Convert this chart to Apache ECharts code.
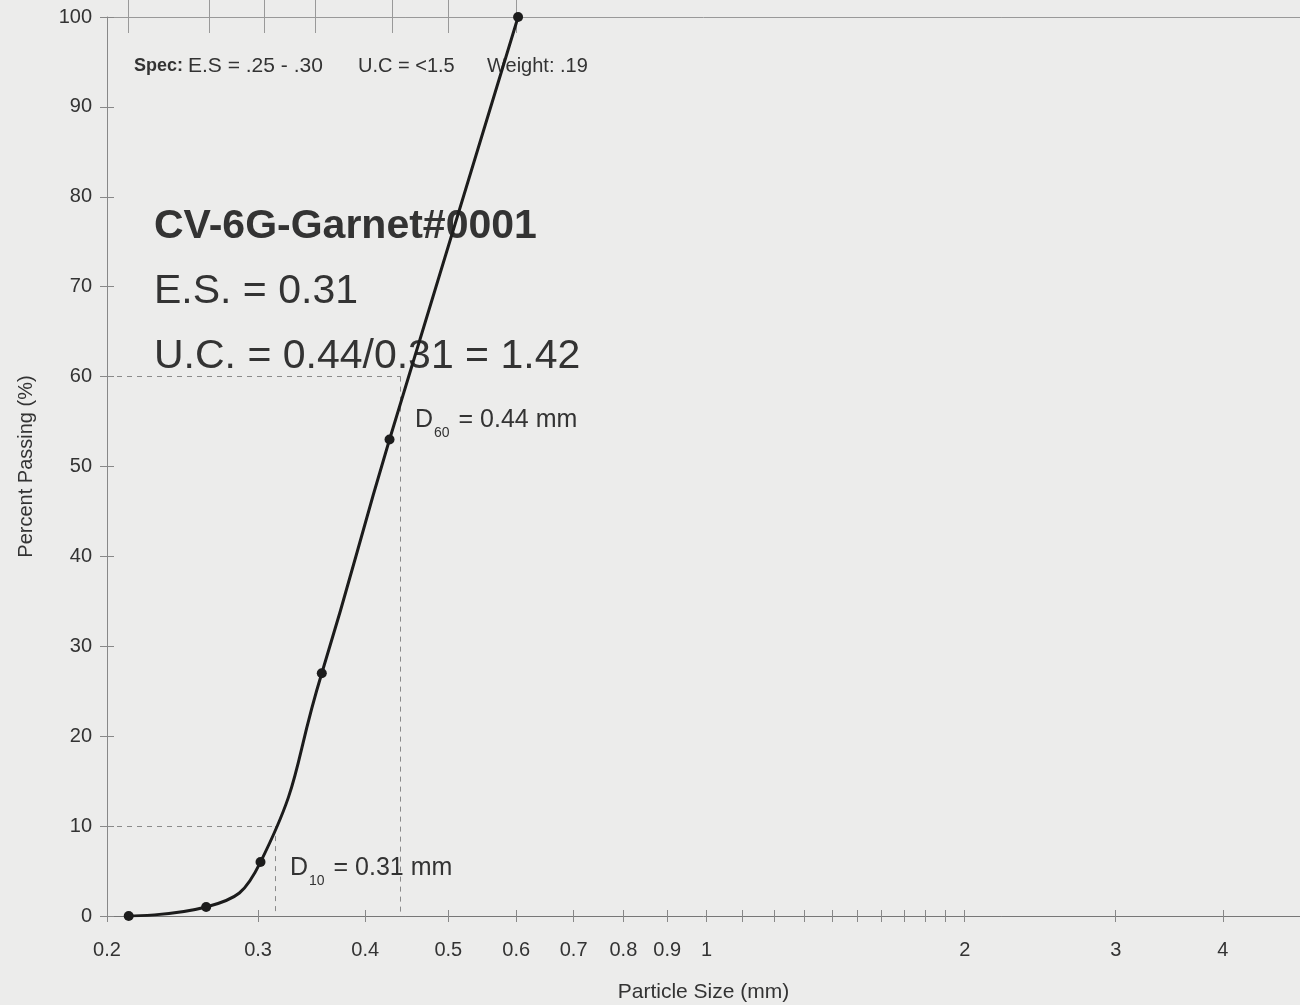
<!DOCTYPE html>
<html lang="en">
<head>
<meta charset="utf-8">
<title>Particle Size Distribution</title>
<script src="https://cdn.jsdelivr.net/npm/echarts@6/dist/echarts.min.js"></script>
<style>
  html, body { margin: 0; padding: 0; background: #ececeb; }
  #main { width: 1300px; height: 1005px; }
</style>
</head>
<body>
<div id="main"></div>
<script type="text/javascript">
// sieve data
var sieveSize = [0.212, 0.261, 0.302, 0.356, 0.427, 0.603];
var percentPassing = [0, 1, 6, 27, 53, 100];
// sieve marks along the top edge
var topTicks = [0.212, 0.263, 0.305, 0.35, 0.43, 0.5, 0.6];
// axis labels
var xLabels = [0.2, 0.3, 0.4, 0.5, 0.6, 0.7, 0.8, 0.9, 1, 2, 3, 4];
var xMinor = [1.1, 1.2, 1.3, 1.4, 1.5, 1.6, 1.7, 1.8, 1.9];
// D10 / D60 reference values
var d10 = [0.314, 10];
var d60 = [0.44, 60];

var font = '"Liberation Sans", Arial, sans-serif';
var textColor = '#333';
var axisColor = '#888';

var chart = echarts.init(document.getElementById('main'));

var points = [];
for (var i = 0; i < sieveSize.length; i++) {
    points.push([sieveSize[i], percentPassing[i]]);
}

var dashStyle = { color: '#8a8a8a', width: 1, type: [5, 5] };

// extra axis copies only carry the inward half of the crossing ticks
function logAxis(extra) {
    var a = {
        type: 'log', logBase: 10, min: 0.2, max: 4.92,
        axisLabel: { show: false },
        splitLine: { show: false },
        minorTick: { show: false }
    };
    for (var k in extra) a[k] = extra[k];
    return a;
}

function dLabel(sub, val) {
    return {
        text: '{d|D}{s|' + sub + '}{d| = ' + val + ' mm}', fill: textColor,
        rich: { d: { fontSize: 25, fontFamily: font, lineHeight: 40, fill: textColor },
                s: { fontSize: 14, fontFamily: font, lineHeight: 14, verticalAlign: 'bottom', padding: [0, 2, 0, 1], fill: textColor } }
    };
}

option = {
    backgroundColor: '#ececeb',
    animation: false,
    grid: { left: 107, right: 0, top: 17, bottom: 89, outerBoundsMode: 'none', containLabel: false },
    xAxis: [
        logAxis({
            position: 'bottom',
            name: 'Particle Size (mm)',
            nameLocation: 'middle',
            nameGap: 66,
            nameTextStyle: { fontFamily: font, fontSize: 21, color: textColor },
            axisLine: { lineStyle: { color: '#777', width: 1 } },
            axisTick: { show: true, length: 6, lineStyle: { color: '#888' },
                        customValues: xLabels.concat(xMinor) },
            axisLabel: { show: true, customValues: xLabels, margin: 24, fontFamily: font, fontSize: 20, color: textColor,
                         formatter: function (v) { return String(+v.toFixed(2)); } }
        }),
        logAxis({
            position: 'bottom',
            axisLine: { show: false },
            axisTick: { show: true, inside: true, length: 6, lineStyle: { color: '#888' },
                        customValues: xLabels.concat(xMinor) }
        }),
        logAxis({
            position: 'top',
            axisLine: { lineStyle: { color: '#999', width: 1 } },
            axisTick: { show: true, length: 17, lineStyle: { color: '#999' }, customValues: topTicks }
        }),
        logAxis({
            position: 'top',
            axisLine: { show: false },
            axisTick: { show: true, inside: true, length: 16, lineStyle: { color: '#999' }, customValues: topTicks }
        })
    ],
    yAxis: [{
        type: 'value',
        min: 0,
        max: 100,
        interval: 10,
        name: 'Percent Passing (%)',
        nameLocation: 'middle',
        nameGap: 71,
        nameRotate: 90,
        nameTextStyle: { fontFamily: font, fontSize: 20, color: textColor },
        axisLine: { show: true, lineStyle: { color: axisColor, width: 1 } },
        axisTick: { show: true, length: 7, lineStyle: { color: axisColor } },
        axisLabel: { margin: 15, fontFamily: font, fontSize: 20, color: textColor },
        splitLine: { show: false }
    }, {
        type: 'value',
        position: 'left',
        min: 0,
        max: 100,
        interval: 10,
        axisLine: { show: false },
        axisTick: { show: true, inside: true, length: 7, lineStyle: { color: axisColor } },
        axisLabel: { show: false },
        splitLine: { show: false }
    }],
    series: [{
        type: 'line',
        data: points,
        smooth: 0.5,
        symbol: 'circle',
        symbolSize: 10,
        lineStyle: { color: '#1c1c1c', width: 3 },
        itemStyle: { color: '#1c1c1c' },
        z: 5,
        markLine: {
            silent: true,
            symbol: 'none',
            label: { show: false },
            lineStyle: dashStyle,
            data: [
                [{ coord: [0.2, d60[1]] }, { coord: [d60[0], d60[1]] }],
                [{ coord: [d60[0], d60[1]] }, { coord: [d60[0], 0] }],
                [{ coord: [0.2, d10[1]] }, { coord: [d10[0], d10[1]] }],
                [{ coord: [d10[0], d10[1]] }, { coord: [d10[0], 0] }]
            ]
        }
    }],
    graphic: [
        { type: 'text', x: 134, y: 66, z: 1, style: { text: 'Spec:', verticalAlign: 'middle', font: 'bold 18px ' + font, fill: textColor } },
        { type: 'text', x: 188, y: 66, z: 1, style: { text: 'E.S = .25 - .30', verticalAlign: 'middle', font: '21px ' + font, fill: textColor } },
        { type: 'text', x: 358, y: 66, z: 1, style: { text: 'U.C = <1.5', verticalAlign: 'middle', font: '20px ' + font, fill: textColor } },
        { type: 'text', x: 487, y: 66, z: 1, style: { text: 'Weight: .19', verticalAlign: 'middle', font: '20px ' + font, fill: textColor } },
        { type: 'text', x: 154, y: 227, z: 1, style: { text: 'CV-6G-Garnet#0001', verticalAlign: 'middle', font: 'bold 41px ' + font, fill: textColor } },
        { type: 'text', x: 154, y: 292, z: 1, style: { text: 'E.S. = 0.31', verticalAlign: 'middle', font: '41px ' + font, fill: textColor } },
        { type: 'text', x: 154, y: 357, z: 1, style: { text: 'U.C. = 0.44/0.31 = 1.42', verticalAlign: 'middle', font: '41px ' + font, fill: textColor } },
        { type: 'text', x: 415, y: 400, z: 1, style: dLabel('60', '0.44') },
        { type: 'text', x: 290, y: 848, z: 1, style: dLabel('10', '0.31') }
    ]
};

chart.setOption(option);
</script>
</body>
</html>
